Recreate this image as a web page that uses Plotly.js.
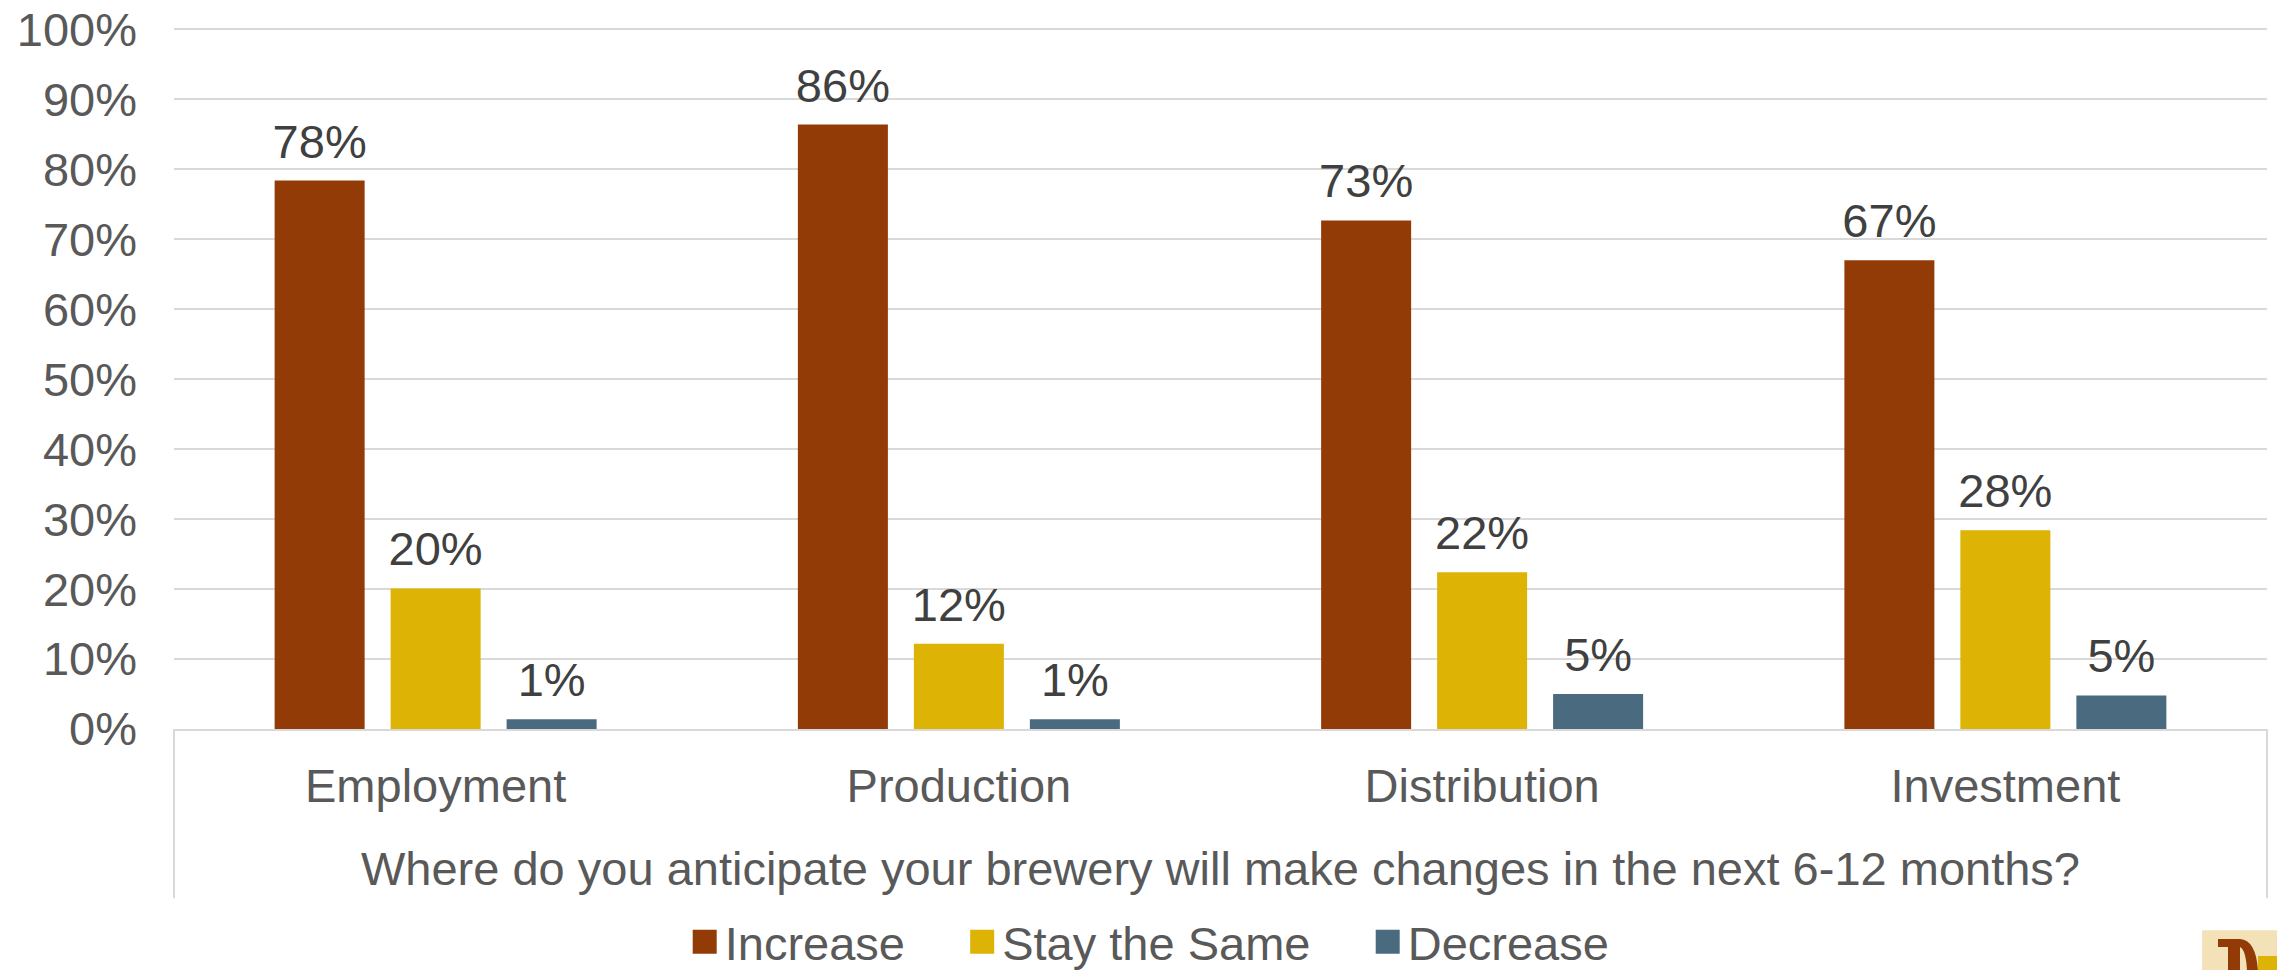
<!DOCTYPE html>
<html>
<head>
<meta charset="utf-8">
<script src="https://cdn.plot.ly/plotly-3.0.1.min.js"></script>
<style>
  html, body { margin: 0; padding: 0; background: #ffffff; }
  #chart { width: 2277px; height: 970px; }
</style>
</head>
<body>
<div id="chart"></div>
<script>
// ---- data ----
const categories = ['Employment', 'Production', 'Distribution', 'Investment'];
const seriesNames = ['Increase', 'Stay the Same', 'Decrease'];
const increaseValues = [78.4, 86.4, 72.7, 67.0];
const stayTheSameValues = [20.1, 12.2, 22.4, 28.4];
const decreaseValues = [1.4, 1.4, 5.0, 4.8];
const yTickValues = [0, 10, 20, 30, 40, 50, 60, 70, 80, 90, 100];
const yTickLabels = ['0%', '10%', '20%', '30%', '40%', '50%', '60%', '70%', '80%', '90%', '100%'];
const xAxisTitle = 'Where do you anticipate your brewery will make changes in the next 6-12 months?';

// ---- style ----
const FONT = 'Liberation Sans, Arial, Helvetica, sans-serif';
const colors = ['#933B06', '#DDB305', '#4A6A80'];
const seriesValues = [increaseValues, stayTheSameValues, decreaseValues];
const legendPad = '\u00a0\u00a0\u00a0\u00a0';

const traces = seriesNames.map((name, i) => ({
  type: 'bar',
  name: name + legendPad,
  x: categories,
  y: seriesValues[i],
  marker: { color: colors[i], line: { width: 0 } },
  texttemplate: '%{y:.0f}%',
  textposition: 'outside',
  constraintext: 'none',
  cliponaxis: false,
  textfont: { family: FONT, size: 47, color: '#404040' },
  hoverinfo: 'skip'
}));

const gridColor = '#D9D9D9';
const layout = {
  width: 2277,
  height: 970,
  margin: { l: 174, r: 10, t: 28, b: 241, pad: 0, autoexpand: false },
  paper_bgcolor: '#ffffff',
  plot_bgcolor: '#ffffff',
  font: { family: FONT, color: '#595959', size: 47 },
  barmode: 'group',
  bargap: 0.335,
  bargroupgap: 0.224,
  showlegend: true,
  legend: {
    orientation: 'h',
    x: 0.244, xanchor: 'left',
    y: -0.3043, yanchor: 'middle',
    font: { family: FONT, size: 47, color: '#595959' },
    bgcolor: 'rgba(0,0,0,0)',
    borderwidth: 0,
    traceorder: 'normal'
  },
  xaxis: {
    type: 'category',
    showgrid: false,
    showline: true,
    linecolor: gridColor,
    linewidth: 2,
    ticks: '',
    ticklabelstandoff: 15,
    tickfont: { family: FONT, size: 47, color: '#595959' },
    title: { text: xAxisTitle, font: { family: FONT, size: 47, color: '#595959' }, standoff: 41 },
    automargin: false,
    fixedrange: true
  },
  yaxis: {
    range: [0, 100.2],
    tickvals: yTickValues,
    ticktext: yTickLabels,
    showgrid: true,
    gridcolor: gridColor,
    gridwidth: 2,
    zeroline: false,
    showline: false,
    ticks: '',
    ticklabelstandoff: 36,
    tickfont: { family: FONT, size: 47, color: '#595959' },
    automargin: false,
    fixedrange: true
  },
  shapes: [
    { type: 'line', xref: 'paper', yref: 'paper', x0: 0, x1: 0, y0: 0, y1: -0.2414,
      line: { color: gridColor, width: 2 } },
    { type: 'line', xref: 'paper', yref: 'paper', x0: 1, x1: 1, y0: 0, y1: -0.2414,
      line: { color: gridColor, width: 2 } },
    // logo fragment at bottom-right corner (decoration, partly outside the page)
    { type: 'rect', xref: 'paper', yref: 'paper', x0: 0.969, x1: 1.006, y0: -0.287, y1: -0.36,
      fillcolor: '#F3E2B8', line: { width: 0 } },
    { type: 'rect', xref: 'paper', yref: 'paper', x0: 0.9957, x1: 1.006, y0: -0.3238, y1: -0.36,
      fillcolor: '#DDB305', line: { width: 0 } },
    { type: 'path', xref: 'paper', yref: 'paper',
      path: 'M0.97659,-0.29957 L0.98710,-0.29957 Q0.99474,-0.30100 0.99570,-0.345 L0.99044,-0.345 ' +
            'Q0.98997,-0.31526 0.98710,-0.31098 L0.98710,-0.345 L0.98137,-0.345 L0.98137,-0.31098 ' +
            'L0.97659,-0.31098 Z',
      fillcolor: '#933B06', line: { width: 0 } }
  ]
};

function postStyle() {
  document.querySelectorAll('#chart .legendpoints path').forEach(p => {
    p.setAttribute('d', 'M12,12H-12V-12H12Z');
  });
  document.querySelectorAll('#chart text.bartext').forEach(t => {
    if (t.getAttribute('data-lifted') === '1') return;
    const tr = t.getAttribute('transform') || '';
    t.setAttribute('transform', 'translate(0,-10) ' + tr);
    t.setAttribute('data-lifted', '1');
  });
}

Plotly.newPlot('chart', traces, layout, { displayModeBar: false, staticPlot: true }).then(gd => {
  postStyle();
  gd.on('plotly_afterplot', postStyle);
});
</script>
</body>
</html>
